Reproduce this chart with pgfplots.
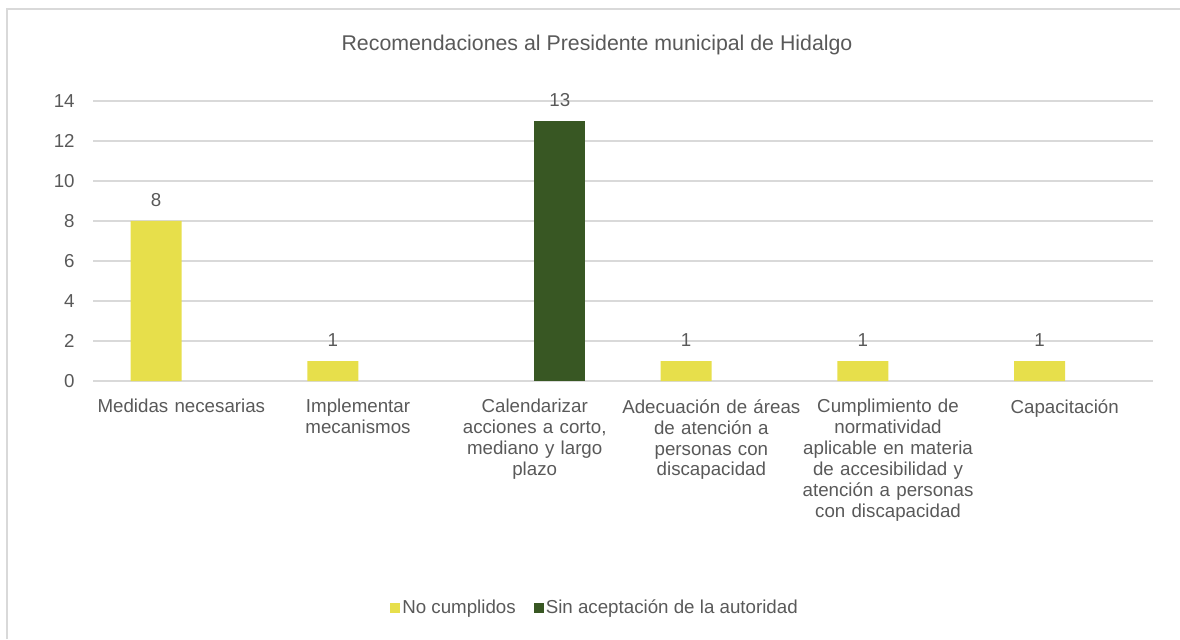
\documentclass[border=0pt]{standalone}
\usepackage{pgfplots}
\pgfplotsset{compat=1.18}
\usepackage{fontspec}
\setmainfont{Liberation Sans}
\definecolor{txt}{HTML}{595959}
\definecolor{grd}{HTML}{D9D9D9}
\definecolor{ylw}{HTML}{E7DF4B}
\definecolor{grn}{HTML}{385723}
\begin{document}
\fontsize{9.4}{10.5}\selectfont
\begin{tikzpicture}[x=0.5bp,y=0.5bp]
\useasboundingbox (-93,-258) rectangle (1087,381);
\draw[grd, line width=1bp] (-86,-258) -- (-86,372) -- (1087,372);
\begin{axis}[
  at={(0,0)}, anchor=south west,
  scale only axis, width=530bp, height=140bp,
  xmin=-0.5, xmax=5.5, ymin=0, ymax=14,
  ytick={0,2,...,14}, xtick={0,...,5},
  xticklabels={{Medidas necesarias},{Implementar\\mecanismos},{Calendarizar\\acciones a corto,\\mediano y largo\\plazo},{Adecuación de áreas\\de atención a\\personas con\\discapacidad},{Cumplimiento de\\normatividad\\aplicable en materia\\de accesibilidad y\\atención a personas\\con discapacidad},{Capacitación}},
  axis x line=bottom, axis y line=left, axis line style={-},
  y axis line style={draw=none},
  x axis line style={grd, line width=0.75bp},
  ymajorgrids, grid style={grd, line width=0.75bp},
  major tick length=0pt,
  /pgf/number format/assume math mode=true,
  tick label style={text=txt, font=\fontsize{9.4}{10.5}\selectfont},
  yticklabel style={inner sep=0pt, xshift=-9bp},
  xticklabel style={text width=95bp, align=center, inner sep=0pt, yshift=-9bp},
  ybar, bar width=25.5bp,
  nodes near coords,
  nodes near coords style={text=txt, font=\fontsize{9.4}{10.5}\selectfont, inner sep=0pt, yshift=7bp},
  legend style={at={(0.4736,-0.811)}, anchor=center, draw=none, fill=none,
    legend columns=2, font=\fontsize{9.4}{10.5}\selectfont, text=txt,
    /tikz/every even column/.append style={column sep=8bp},
    nodes={inner sep=1bp}},
  legend image code/.code={\fill[#1] (0bp,-2.5bp) rectangle (5bp,2.5bp);},
]
\addplot[fill=ylw, draw=none, bar shift=-12.6bp] coordinates {(0,8) (1,1) (3,1) (4,1) (5,1)};
\addlegendentry{No cumplidos}
\addplot[fill=grn, draw=none, bar shift=12.6bp] coordinates {(2,13)};
\addlegendentry{Sin aceptación de la autoridad}
\end{axis}
\node[text=txt, font=\fontsize{10.7}{12}\selectfont] at (504,336) {Recomendaciones al Presidente municipal de Hidalgo};
\end{tikzpicture}
\end{document}
